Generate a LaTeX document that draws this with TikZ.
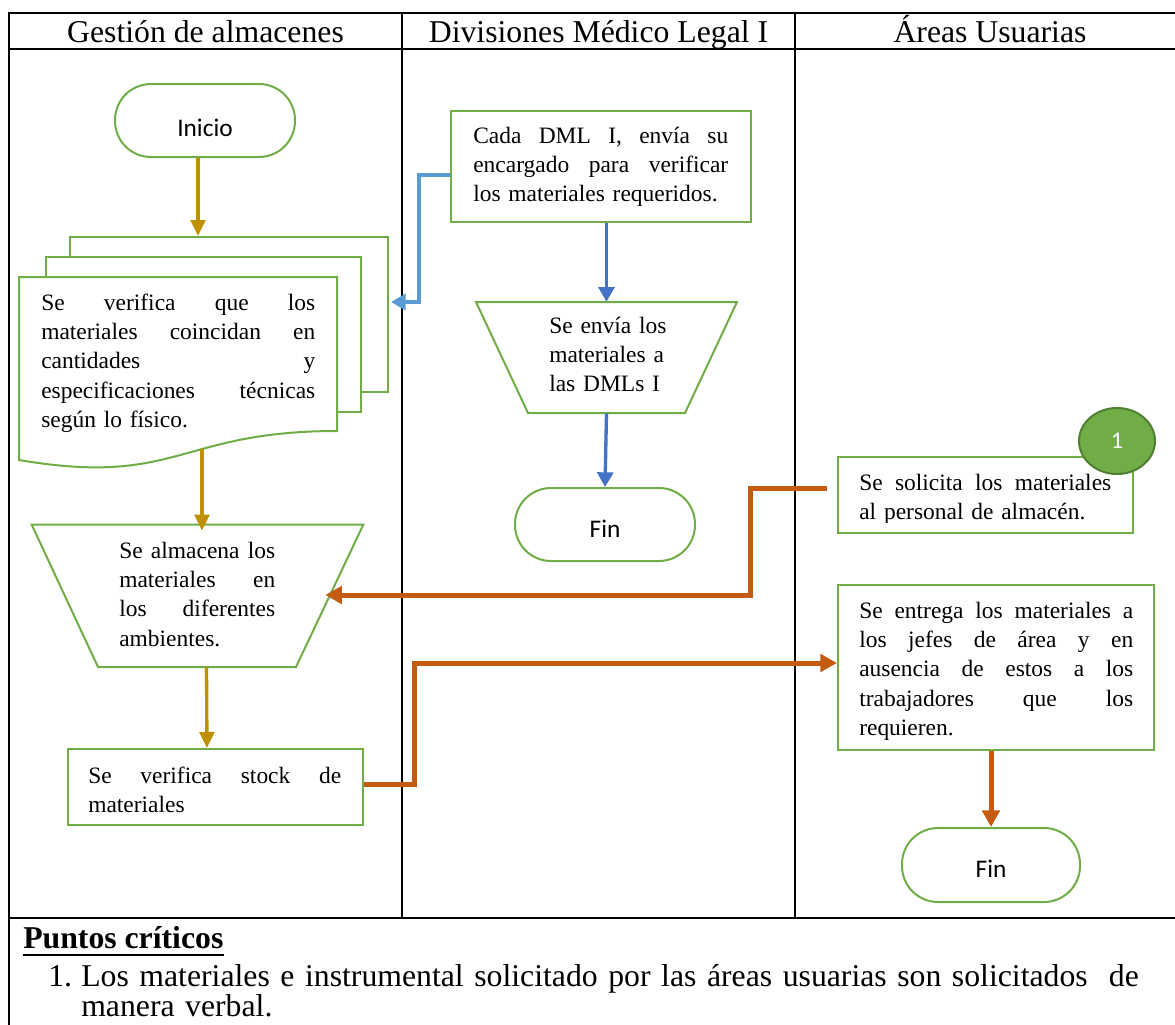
\documentclass[tikz,border=0pt]{standalone}
\usepackage{fontspec}
\setmainfont{Liberation Serif}
\newfontfamily\calibri{Carlito}
\usetikzlibrary{arrows.meta,fit,calc,shapes.geometric}

\definecolor{shapegreen}{HTML}{70AD47}
\definecolor{darkgreen}{HTML}{507E32}
\definecolor{flowgold}{HTML}{BF9000}
\definecolor{floworange}{HTML}{C55A11}
\definecolor{lightblue}{HTML}{5B9BD5}
\definecolor{darkblue}{HTML}{4472C4}

% one fully justified line of a given width (words separated by \hfill)
\newcommand\jl[2]{\leavevmode\hbox to #1{#2}\\}

\begin{document}
\begin{tikzpicture}[x=0.75pt,y=-0.75pt,
  lane/.style={line width=1.4pt, draw=black},
  head/.style={font=\fontsize{23.8pt}{28pt}\selectfont, anchor=base, inner sep=0pt},
  shapebox/.style={draw=shapegreen, line width=1.5pt, fill=white, inner sep=0pt},
  shapeline/.style={draw=shapegreen, line width=1.5pt, fill=white},
  term/.style={shapebox, rounded corners=27pt},
  termtext/.style={font=\calibri\fontsize{19pt}{23pt}\selectfont, inner sep=0pt, anchor=center},
  anchorbox/.style={inner sep=0pt},
  body/.style={font=\fontsize{17.6pt}{22.1pt}\selectfont, inner sep=0pt, anchor=base west, align=left},
  foot/.style={font=\fontsize{23.8pt}{21pt}\selectfont, inner sep=0pt, anchor=base west},
  goldarr/.style={draw=flowgold, line width=2.5pt, -{Triangle[length=12pt,width=11pt]}},
  ltblue/.style={draw=lightblue, line width=3.4pt, -{Triangle[length=11pt,width=12pt]}},
  dkblue/.style={draw=darkblue, line width=2.5pt, -{Triangle[length=11pt,width=12pt]}},
  orarr/.style={draw=floworange, line width=3.75pt, -{Triangle[length=12.5pt,width=13pt]}}
]
\clip (0,0) rectangle (1175,1025);

% swimlane frame
\draw[lane] (9,1030) -- (9,13) -- (1180,13);
\draw[lane] (9,49) -- (1180,49);
\draw[lane] (9,918) -- (1180,918);
\draw[lane] (402,13) -- (402,918);
\draw[lane] (795,13) -- (795,918);

\node[head] (h1) at (205.5,42) {Gestión de almacenes};
\node[head] (h2) at (598.5,42) {Divisiones Médico Legal I};
\node[head] (h3) at (990,42) {Áreas Usuarias};

% ---- Gestión de almacenes ----
\node[term, fit={(115,84) (295,157)}] (ini) {};
\node[termtext] (initext) at (205,128) {Inicio};

\node[shapebox, fit={(70,237) (388,392)}] (docback) {};
\node[shapebox, fit={(46,257) (361,412)}] (docmid) {};
\draw[shapeline] (19,460) -- (19,277) -- (337,277) -- (337,431)
  .. controls (178,431) and (178,487) .. (19,460) -- cycle;
\node[anchorbox, fit={(19,277) (337,460)}] (docfront) {};
\node[body, text width=205.5pt] (doctext) at (41,310)
  {\jl{205.5pt}{Se\hfill verifica\hfill que\hfill los}%
   \jl{205.5pt}{materiales\hfill coincidan\hfill en}%
   \jl{205.5pt}{cantidades\hfill y}%
   \jl{205.5pt}{especificaciones\hfill técnicas}%
   según lo físico.};

\node[anchorbox, fit={(32,525) (363,667)}] (alm) {};
\draw[shapeline] (alm.north west) -- (alm.north east) -- (296,667) -- (98,667) -- cycle;
\node[body, text width=117pt] (almtext) at (119,558)
  {\jl{117pt}{Se\hfill almacena\hfill los}%
   \jl{117pt}{materiales\hfill en}%
   \jl{117pt}{los\hfill diferentes}%
   ambientes.};

\node[shapebox, fit={(68,749) (363,825)}] (stock) {};
\node[body, text width=189.75pt] (stocktext) at (88,783)
  {\jl{189.75pt}{Se\hfill verifica\hfill stock\hfill de}materiales};

% ---- Divisiones Médico Legal I ----
\node[shapebox, fit={(451,111) (751,222)}] (cada) {};
\node[body, text width=191.25pt] (cadatext) at (473,143)
  {\jl{191.25pt}{Cada\hfill DML\hfill I,\hfill envía\hfill su}%
   \jl{191.25pt}{encargado\hfill para\hfill verificar}%
   los materiales requeridos.};

\node[anchorbox, fit={(476,302) (737,413)}] (env) {};
\draw[shapeline] (476,302) -- (737,302) -- (685,413) -- (528,413) -- cycle;
\node[body, text width=100pt] (envtext) at (549,333) {Se envía los\\materiales a\\las DMLs I};

\node[term, fit={(515,488) (695,561)}] (finm) {};
\node[termtext] (finmtext) at (605,529) {Fin};

% ---- Áreas Usuarias ----
\node[shapebox, fit={(838,457) (1133,533)}] (sol) {};
\begin{scope}
  \clip (838,457) rectangle (1133,522);
  \node[body, text width=189pt] (soltext) at (859,490)
    {\jl{189pt}{Se\hfill solicita\hfill los\hfill materiales}al personal de almacén.};
\end{scope}
\node[ellipse, fill=shapegreen, draw=darkgreen, line width=1.5pt,
  minimum width=57pt, minimum height=49.5pt, inner sep=0pt, text=white,
  font=\calibri\fontsize{18pt}{20pt}\selectfont] (crit) at (1117,441) {1};

\node[shapebox, fit={(838,585) (1154,750)}] (ent) {};
\begin{scope}
  \clip (838,585) rectangle (1154,739);
  \node[body, text width=205.5pt] (enttext) at (859,618)
    {\jl{205.5pt}{Se\hfill entrega\hfill los\hfill materiales\hfill a}%
     \jl{205.5pt}{los\hfill jefes\hfill de\hfill área\hfill y\hfill en}%
     \jl{205.5pt}{ausencia\hfill de\hfill estos\hfill a\hfill los}%
     \jl{205.5pt}{trabajadores\hfill que\hfill los}%
     requieren.};
\end{scope}

\node[term, fit={(902,828) (1080,902)}] (finr) {};
\node[termtext] (finrtext) at (991,869) {Fin};

% ---- connectors ----
\coordinate (ga) at ([xshift=-5.25pt]ini.south);
\draw[goldarr] (ga) -- (ga |- docback.north);
\coordinate (gb) at (202,449);
\draw[goldarr] (gb) -- ($(gb |- alm.north)+(0,6)$);
\draw[goldarr] ($(alm.south)+(9,0)$) -- ($(stock.north)+(-8.5,0)$);

\draw[ltblue] ($(cada.west)+(0,8.5)$) -- ++(-31,0) |- ($(docback.east)+(2,-12.5)$);
\draw[dkblue] (cada.south -| env.north) -- (env.north);
\draw[dkblue] (env.south) -- (finm.north);

\draw[orarr] ($(sol.west)+(-10,-7)$) -- ++(-77,0) |- ($(alm.east)+(-38,-1)$);
\draw[orarr] ($(stock.east)+(0,-3)$) -- ++(50,0) |- ($(ent.west)+(0,-4.5)$);
\draw[orarr] (ent.south -| finr.north) -- (finr.north);

% ---- critical points ----
\node[foot, font=\fontsize{23.8pt}{28pt}\selectfont\bfseries] (pc) at (23,948) {Puntos críticos};
\draw[line width=2pt] ($(pc.base west)+(0,7)$) -- ($(pc.base east)+(0,7)$);
\node[foot] (num) at (48,986) {1.};
\node[foot, align=left, text width=800pt] (item) at (81,986)
  {\leavevmode\hbox{Los materiales e instrumental solicitado por las áreas usuarias son solicitados\ \ de}\\manera verbal.};
\end{tikzpicture}
\end{document}
